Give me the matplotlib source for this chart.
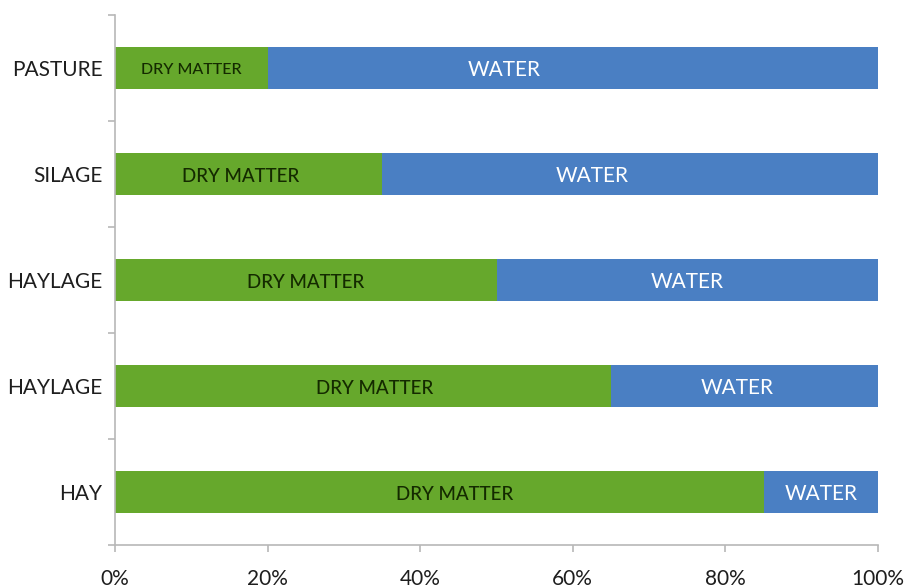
import matplotlib
matplotlib.use("Agg")
import matplotlib.pyplot as plt
import numpy as np

categories = ["HAY", "HAYLAGE", "HAYLAGE", "SILAGE", "PASTURE"]
dry_matter = [85, 65, 50, 35, 20]
water = [15, 35, 50, 65, 80]
x_ticks = [0, 20, 40, 60, 80, 100]
x_tick_labels = ["0%", "20%", "40%", "60%", "80%", "100%"]

# label text centre positions (percent) as seen in reference
dm_label_x = [44.5, 34, 25, 16.5, 10]
water_label_x = [92.5, 81.5, 75, 62.5, 51]

GREEN = "#66a82c"
BLUE = "#4a7fc3"
AXIS = "#b8b8b8"
FONT = ["Lato", "DejaVu Sans"]

fig = plt.figure(figsize=(9.09, 5.87), dpi=100)
ax = fig.add_axes([115/909, 1-545/587, (878-115)/909, (545-15)/587])

y = np.arange(len(categories))
bh = 0.39
ax.barh(y, dry_matter, height=bh, color=GREEN, edgecolor="none")
ax.barh(y, water, left=dry_matter, height=bh, color=BLUE, edgecolor="none")

for i in range(len(categories)):
    fs = 11.5 if dry_matter[i] < 25 else 13.5
    ax.text(dm_label_x[i], y[i] - 0.02, "DRY MATTER", ha="center", va="center",
            color="#142a00", fontsize=fs, family=FONT, weight="medium")
    ax.text(water_label_x[i], y[i] - 0.02, "WATER", ha="center", va="center",
            color="white", fontsize=15, family=FONT)

ax.set_xlim(0, 100)
ax.set_ylim(-0.5, len(categories) - 0.5)
ax.set_xticks(x_ticks)
ax.set_xticklabels(x_tick_labels, fontsize=15, family=FONT, color="#1e1e1e")
ax.set_yticks(y)
ax.set_yticklabels(categories, fontsize=15, family=FONT, color="#1e1e1e")
ax.set_yticks(np.arange(-0.5, len(categories), 1.0), minor=True)

for s in ["top", "right"]:
    ax.spines[s].set_visible(False)
for s in ["left", "bottom"]:
    ax.spines[s].set_color(AXIS)
    ax.spines[s].set_linewidth(1.2)

ax.tick_params(axis="y", which="major", length=0, pad=9)
ax.tick_params(axis="y", which="minor", length=5, color=AXIS, width=1.2)
ax.tick_params(axis="x", which="major", length=5, color=AXIS, width=1.2, pad=12)

fig.savefig("out.png", dpi=100, facecolor="white")
